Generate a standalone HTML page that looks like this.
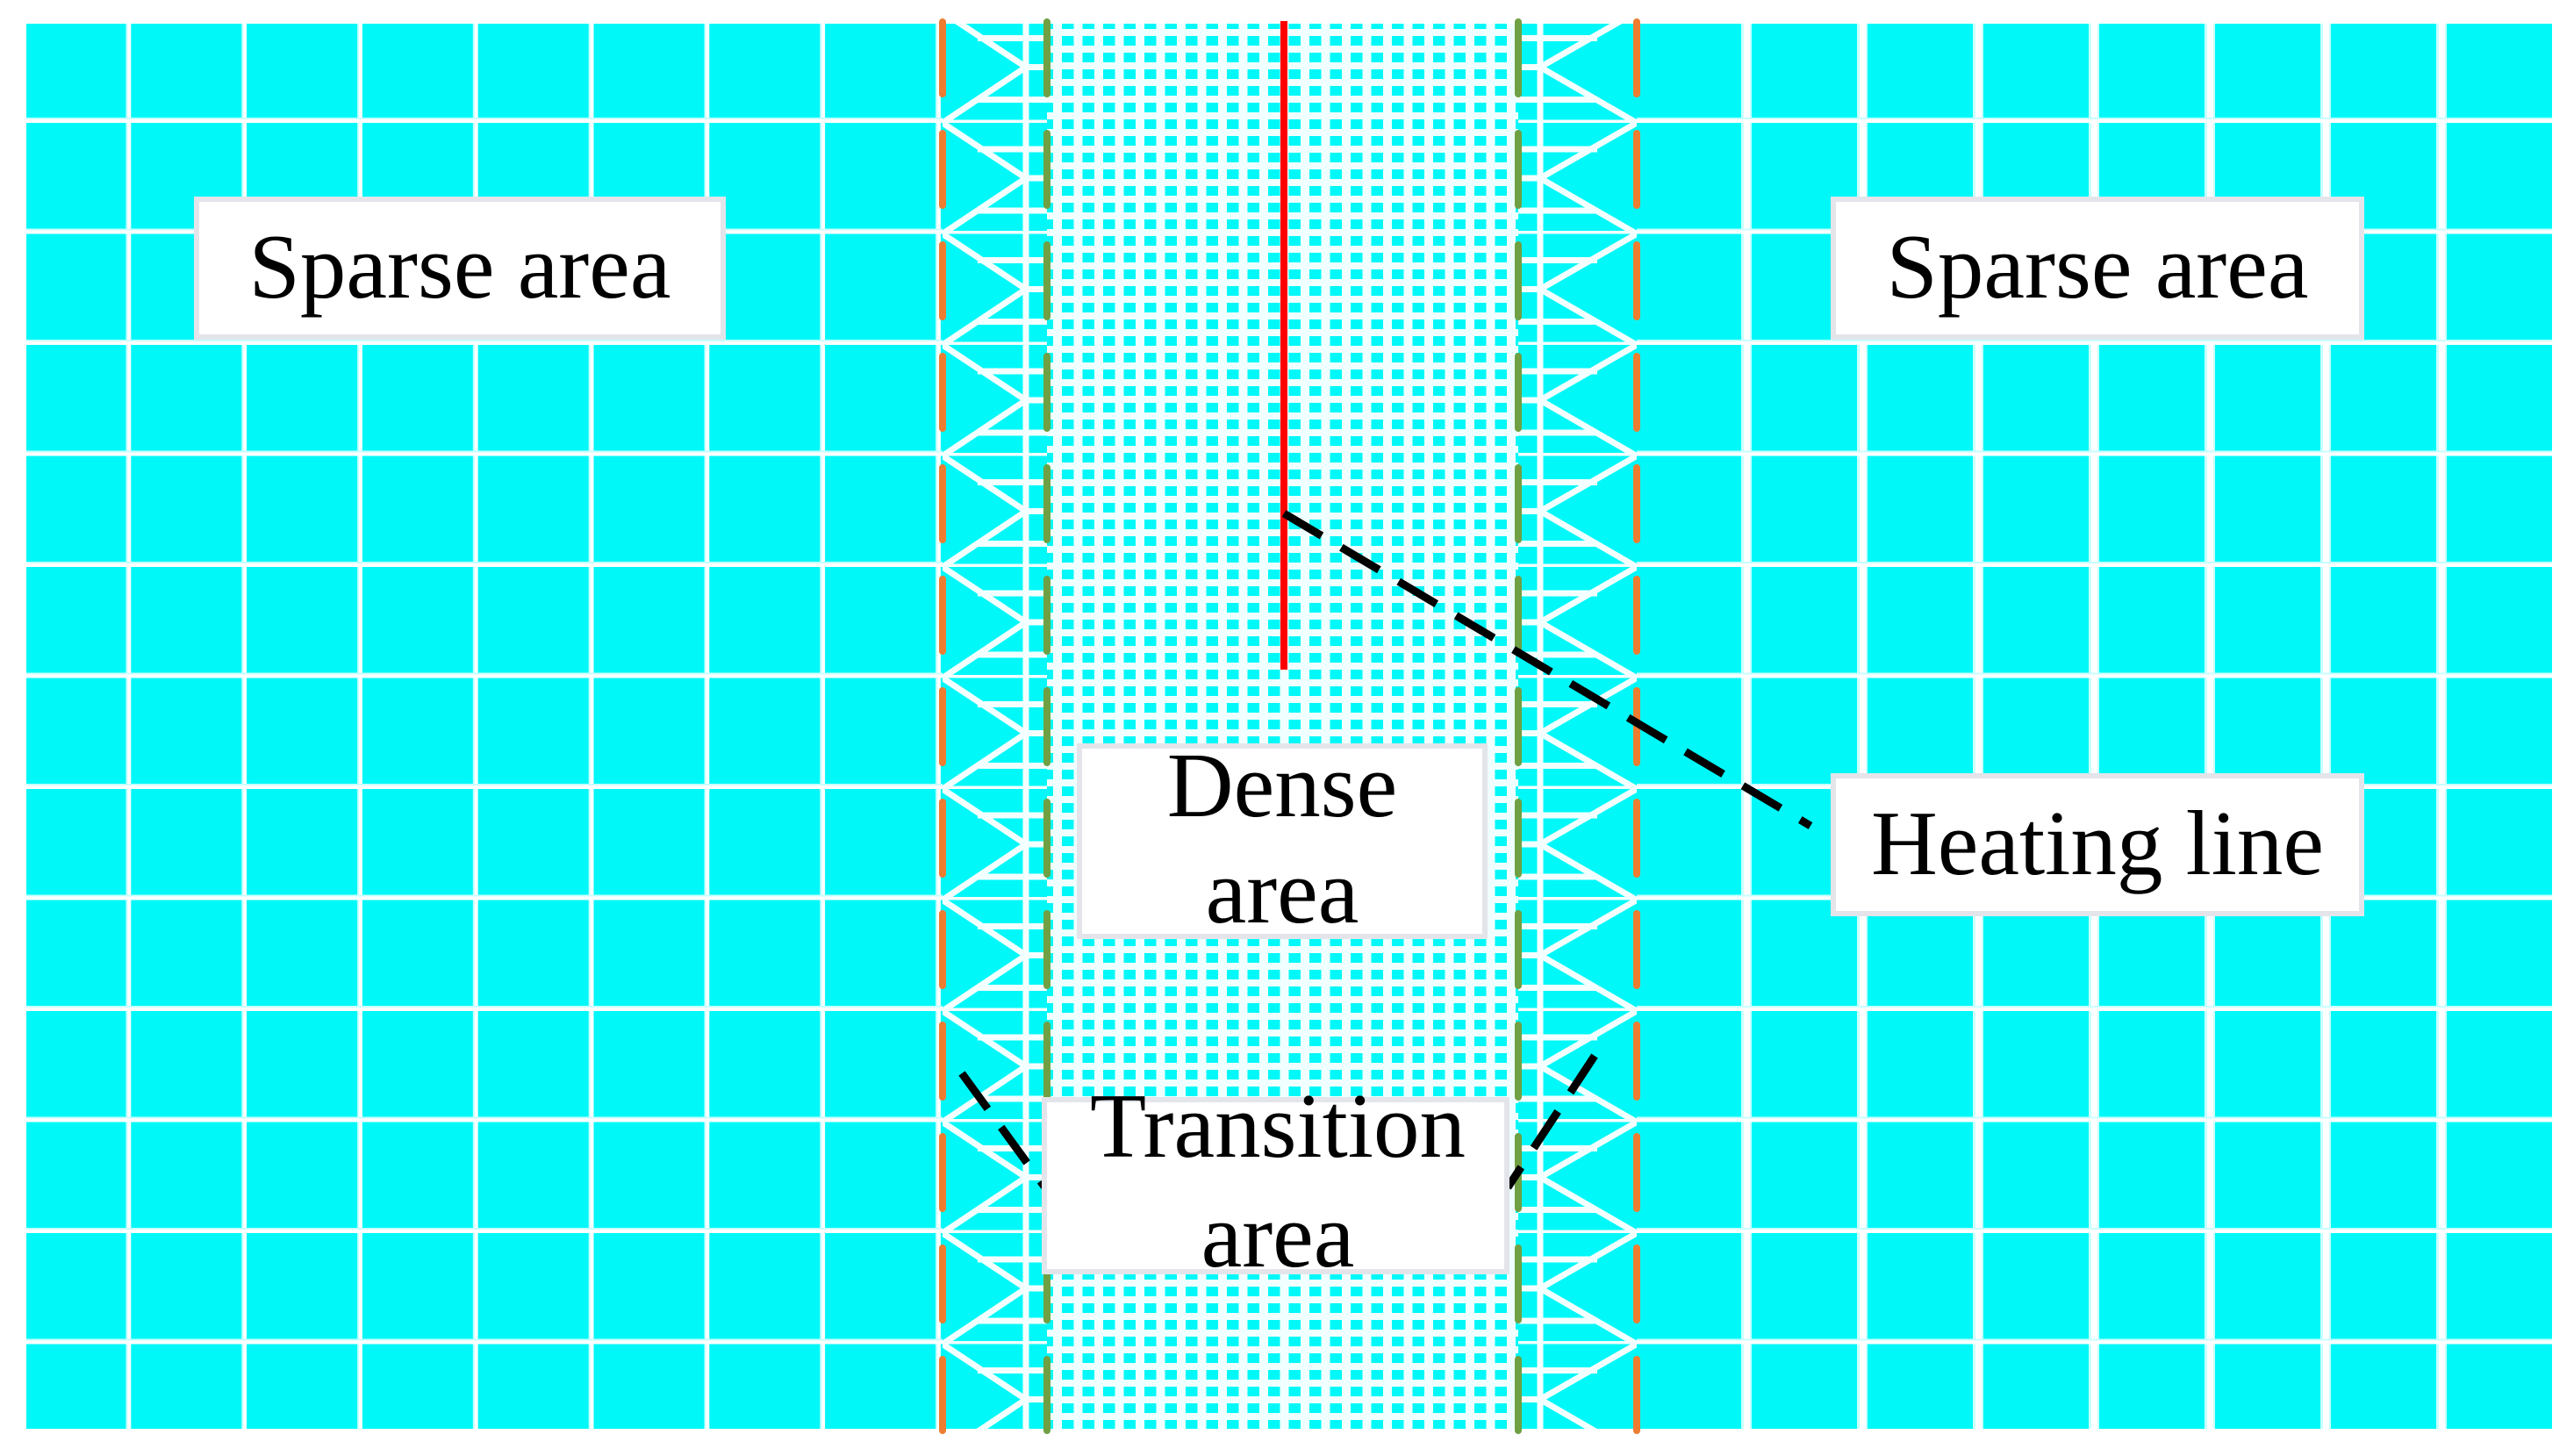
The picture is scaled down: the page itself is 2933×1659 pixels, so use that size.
<!DOCTYPE html>
<html><head><meta charset="utf-8"><style>
html,body{margin:0;padding:0;background:#fff;}
svg{display:block;}
text{font-family:"Liberation Serif",serif;fill:#000;}
</style></head><body>
<svg width="2933" height="1659" viewBox="0 0 2933 1659" xmlns="http://www.w3.org/2000/svg">
<defs>
<pattern id="sv" patternUnits="userSpaceOnUse" x="17.5" y="0" width="131.8" height="50">
<rect x="126" y="0" width="12" height="50" fill="#C8FFFF"/>
<rect x="128" y="0" width="8" height="50" fill="#fff"/>
</pattern>
<pattern id="svr" patternUnits="userSpaceOnUse" x="1855" y="0" width="132" height="50">
<rect x="-3" y="0" width="12" height="50" fill="#C8FFFF"/>
<rect x="-1" y="0" width="8" height="50" fill="#fff"/>
<rect x="129" y="0" width="3" height="50" fill="#C8FFFF"/>
</pattern>
<pattern id="sh" patternUnits="userSpaceOnUse" x="0" y="13.5" width="50" height="126.5">
<rect x="0" y="120.5" width="50" height="12" fill="#C8FFFF"/>
<rect x="0" y="122.5" width="50" height="8" fill="#fff"/>
</pattern>
<pattern id="dv" patternUnits="userSpaceOnUse" x="1193" y="0" width="23.5" height="50">
<rect x="7" y="0" width="10" height="50" fill="#F0FFFF"/>
</pattern>
<pattern id="dh" patternUnits="userSpaceOnUse" x="0" y="27" width="50" height="19">
<rect x="0" y="6" width="50" height="8" fill="#F0FFFF"/>
</pattern>
<pattern id="tl" patternUnits="userSpaceOnUse" x="1074" y="13.5" width="119" height="126.5">
<g stroke="#F4FFFF" stroke-width="7" fill="none">
<line x1="0" y1="126.5" x2="95" y2="63"/>
<line x1="0" y1="126.5" x2="95" y2="190"/>
<line x1="0" y1="0" x2="95" y2="63"/>
<line x1="0" y1="0" x2="95" y2="-63"/>
<line x1="95" y1="63" x2="119" y2="63"/>
<line x1="0" y1="126.5" x2="119" y2="126.5"/>
<line x1="40" y1="100" x2="119" y2="100"/>
<line x1="40" y1="30" x2="119" y2="30"/>
<line x1="95" y1="0" x2="95" y2="126.5"/>
</g>
</pattern>
<pattern id="tr" patternUnits="userSpaceOnUse" x="1730" y="13.5" width="135" height="126.5">
<g stroke="#F4FFFF" stroke-width="7" fill="none">
<line x1="135" y1="126.5" x2="25" y2="63"/>
<line x1="135" y1="126.5" x2="25" y2="190"/>
<line x1="135" y1="0" x2="25" y2="63"/>
<line x1="135" y1="0" x2="25" y2="-63"/>
<line x1="25" y1="63" x2="0" y2="63"/>
<line x1="135" y1="126.5" x2="0" y2="126.5"/>
<line x1="0" y1="100" x2="90" y2="100"/>
<line x1="0" y1="30" x2="90" y2="30"/>
<line x1="25" y1="0" x2="25" y2="126.5"/>
</g>
</pattern>
<clipPath id="cl"><rect x="30" y="27" width="2878" height="1601"/></clipPath>
</defs>
<g clip-path="url(#cl)">
<rect x="30" y="27" width="2878" height="1601" fill="#00F8F8"/>
<rect x="30" y="27" width="1044" height="1601" fill="url(#sv)"/>
<rect x="1865" y="27" width="1043" height="1601" fill="url(#svr)"/>
<rect x="30" y="27" width="1044" height="1601" fill="url(#sh)"/>
<rect x="1865" y="27" width="1043" height="1601" fill="url(#sh)"/>
<rect x="1193" y="27" width="537" height="1601" fill="url(#dv)"/>
<rect x="1193" y="27" width="537" height="1601" fill="url(#dh)"/>
<rect x="1074" y="27" width="119" height="1601" fill="url(#tl)"/>
<rect x="1730" y="27" width="135" height="1601" fill="url(#tr)"/>
</g>
<g stroke-width="8" stroke-linecap="round" fill="none" stroke-dasharray="82 45">
<line x1="1074" y1="25" x2="1074" y2="1630" stroke="#ED7D31"/>
<line x1="1865" y1="25" x2="1865" y2="1630" stroke="#ED7D31"/>
<line x1="1193" y1="25" x2="1193" y2="1630" stroke="#70A044"/>
<line x1="1730" y1="25" x2="1730" y2="1630" stroke="#70A044"/>
</g>
<line x1="1463" y1="24" x2="1463" y2="763" stroke="#FF0000" stroke-width="8"/>
<g stroke="#000" stroke-width="9" fill="none" stroke-dasharray="50 26">
<line x1="1463" y1="585" x2="2063" y2="941"/>
<line x1="1096" y1="1223" x2="1190" y2="1352"/>
<line x1="1817" y1="1203" x2="1718" y2="1353"/>
</g>
<g fill="#fff" stroke="#E3E5EA" stroke-width="6">
<rect x="224" y="227" width="600" height="157"/>
<rect x="2089" y="227" width="602" height="157"/>
<rect x="2089" y="884" width="602" height="157"/>
<rect x="1230" y="850" width="462" height="217"/>
<rect x="1190" y="1253" width="527" height="196"/>
</g>
<g font-size="105" text-anchor="middle">
<text x="524" y="339">Sparse area</text>
<text x="2390" y="339">Sparse area</text>
<text x="2390" y="996">Heating line</text>
<text x="1461" y="930">Dense</text>
<text x="1461" y="1051">area</text>
<text x="1456" y="1318">Transition</text>
<text x="1456" y="1443">area</text>
</g>
</svg>
</body></html>
